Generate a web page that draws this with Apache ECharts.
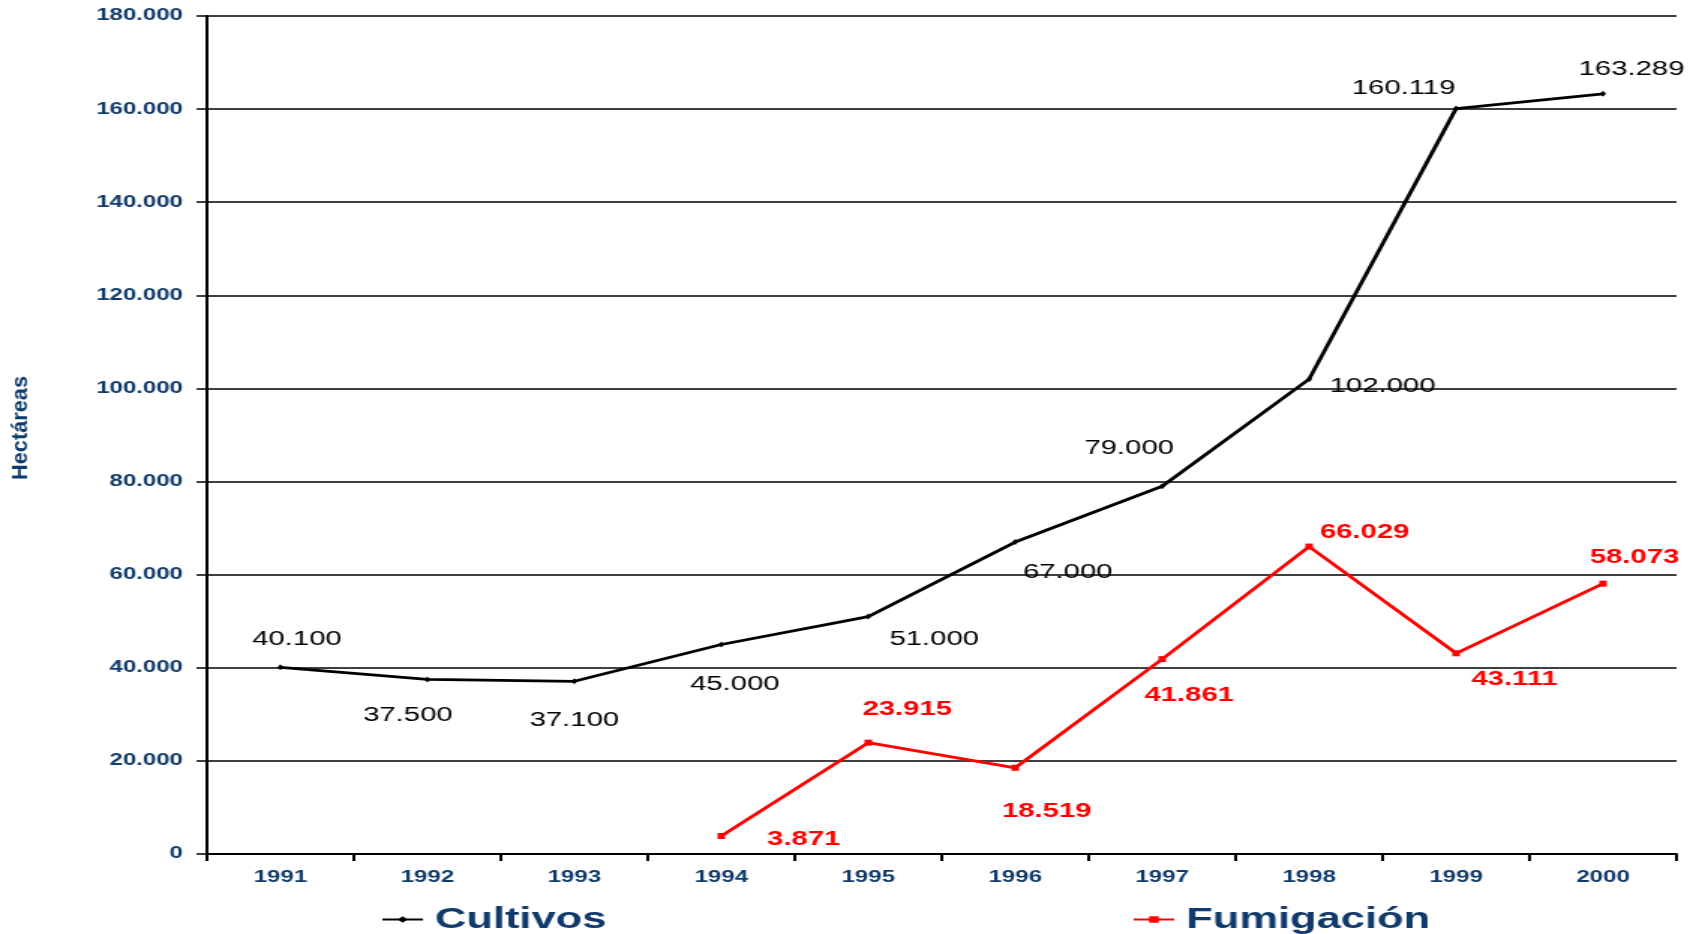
<!DOCTYPE html>
<html>
<head>
<meta charset="utf-8">
<title>Cultivos y Fumigación</title>
<script src="https://cdn.jsdelivr.net/npm/echarts@6/dist/echarts.min.js"></script>
<style>
  html, body { margin: 0; padding: 0; background: #fff; overflow: hidden; }
  /* el original esta estirado en horizontal, lo imitamos con scaleX */
  #main { width: 1129px; height: 934px; transform: scaleX(1.49956); transform-origin: 0 0; }
</style>
</head>
<body>
<div id="main"></div>
<script>
// datos
var years = ['1991', '1992', '1993', '1994', '1995', '1996', '1997', '1998', '1999', '2000'];
var cultivos = [40100, 37500, 37100, 45000, 51000, 67000, 79000, 102000, 160119, 163289];
var fumigacion = [null, null, null, 3871, 23915, 18519, 41861, 66029, 43111, 58073];
var yTicks = [0, 20000, 40000, 60000, 80000, 100000, 120000, 140000, 160000, 180000];

// donde va cada etiqueta respecto al punto
var cultivosOffsets = [[11, -28], [-13, 36], [0, 39], [9, 40], [44, 23], [35, 31], [-22, -38], [49, 7], [-35, -20], [19, -24]];
var fumigacionOffsets = [null, null, null, [55, 4], [26, -33], [21, 44], [18, 37], [37, -14], [39, 26], [21, -26]];

var navy = '#0f3a6b';
var font = 'Liberation Sans, Arial, sans-serif';

function fmt(v) {
  if (v === 0) return '0';
  return String(v).replace(/\B(?=(\d{3})+(?!\d))/g, '.');
}

function buildData(values, offsets) {
  return values.map(function (v, i) {
    if (v == null) return null;
    return { value: v, label: { offset: offsets[i] } };
  });
}

var chart = echarts.init(document.getElementById('main'));

var legendText = { color: navy, fontSize: 29, fontWeight: 'bold', fontFamily: font, padding: [0, 0, 0, 3] };

var option = {
  animation: false,
  backgroundColor: '#fff',
  grid: { left: 138, right: 11, top: 16, bottom: 80 },
  legend: [{
    data: ['Cultivos'],
    left: 249,
    top: 900,
    itemWidth: 27,
    itemHeight: 8,
    textStyle: legendText
  }, {
    data: ['Fumigación'],
    left: 750,
    top: 900,
    itemWidth: 27,
    itemHeight: 8,
    textStyle: legendText
  }],
  xAxis: {
    type: 'category',
    data: years,
    boundaryGap: true,
    axisLine: { lineStyle: { color: '#000', width: 2 } },
    axisTick: { show: true, length: 7, interval: 0, lineStyle: { color: '#000', width: 2 } },
    axisLabel: { color: navy, fontSize: 16, fontWeight: 'bold', margin: 16, fontFamily: font },
    splitLine: { show: false }
  },
  yAxis: {
    type: 'value',
    min: yTicks[0],
    max: yTicks[yTicks.length - 1],
    interval: yTicks[1] - yTicks[0],
    axisLine: { show: true, lineStyle: { color: '#000', width: 2 } },
    axisTick: { show: true, length: 7, lineStyle: { color: '#000', width: 1.5 } },
    axisLabel: {
      color: navy, fontSize: 16, fontWeight: 'bold', margin: 16,
      fontFamily: font,
      formatter: fmt
    },
    splitLine: { show: true, lineStyle: { color: '#000', width: 1.5 } }
  },
  graphic: [{
    type: 'text',
    x: 13.5,
    y: 428,
    rotation: Math.PI / 2,
    scaleX: 1.45,
    style: {
      text: 'Hectáreas',
      fill: navy,
      font: 'bold 15px "Liberation Sans", Arial, sans-serif',
      textAlign: 'center',
      textVerticalAlign: 'middle'
    }
  }],
  series: [{
    name: 'Cultivos',
    type: 'line',
    data: buildData(cultivos, cultivosOffsets),
    color: '#000',
    symbol: 'diamond',
    symbolSize: [4, 6],
    showAllSymbol: true,
    lineStyle: { color: '#000', width: 2.8 },
    itemStyle: { color: '#000' },
    label: {
      show: true,
      position: 'inside',
      color: '#000',
      fontSize: 19.5,
      fontFamily: font,
      formatter: function (p) { return fmt(p.value); }
    },
    z: 3
  }, {
    name: 'Fumigación',
    type: 'line',
    data: buildData(fumigacion, fumigacionOffsets),
    color: '#ff0000',
    symbol: 'rect',
    symbolSize: [5, 6],
    showAllSymbol: true,
    lineStyle: { color: '#ff0000', width: 2.8 },
    itemStyle: { color: '#ff0000' },
    label: {
      show: true,
      position: 'inside',
      color: '#ff0000',
      fontSize: 19.5,
      fontWeight: 'bold',
      fontFamily: font,
      formatter: function (p) { return fmt(p.value); }
    },
    z: 3
  }]
};

chart.setOption(option);
</script>
</body>
</html>
